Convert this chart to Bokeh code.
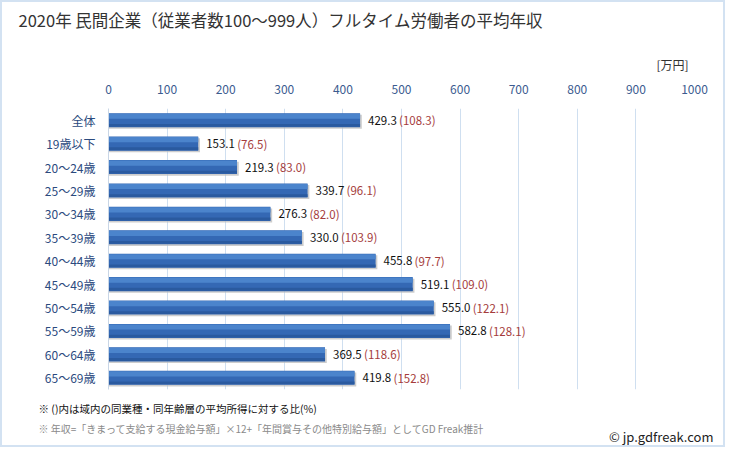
from bokeh.plotting import figure
from bokeh.models import (FactorRange, Range1d, ColumnDataSource, Title, FixedTicker)
from bokeh.transform import dodge
from bokeh.core.properties import value
from bokeh.embed import file_html
from bokeh.resources import INLINE

categories = ["全体", "19歳以下", "20～24歳", "25～29歳", "30～34歳", "35～39歳",
              "40～44歳", "45～49歳", "50～54歳", "55～59歳", "60～64歳", "65～69歳"]
incomes = [429.3, 153.1, 219.3, 339.7, 276.3, 330.0, 455.8, 519.1, 555.0, 582.8, 369.5, 419.8]
ratios = [108.3, 76.5, 83.0, 96.1, 82.0, 103.9, 97.7, 109.0, 122.1, 128.1, 118.6, 152.8]
x_ticks = [0, 100, 200, 300, 400, 500, 600, 700, 800, 900, 1000]

FONT = "Noto Sans CJK JP"

src = ColumnDataSource(dict(
    cat=categories,
    income=incomes,
    shadow=[v + 3 for v in incomes],
    vlabel=[f"{v:.1f}" for v in incomes],
    rlabel=[f"({r:.1f})" for r in ratios],
))

W, H = 725, 447
ML, MR = 106, 33

p = figure(width=W, height=H, output_backend="svg", toolbar_location=None,
           y_range=FactorRange(factors=list(reversed(categories)), range_padding=0.0),
           x_range=Range1d(0, 1000), x_axis_location="above",
           min_border_left=ML, min_border_right=MR, min_border_top=0, min_border_bottom=0)
p.styles = {"border": "2px solid #d3e2f2"}
p.outline_line_color = None
p.background_fill_color = "white"
p.border_fill_color = "white"

# grid
p.xgrid.ticker = FixedTicker(ticks=x_ticks)
p.xgrid.grid_line_color = "#cfdff0"
p.xgrid.grid_line_width = 1
p.ygrid.grid_line_color = None

# axes
xa = p.xaxis[0]
xa.ticker = FixedTicker(ticks=x_ticks)
xa.axis_line_color = None
xa.major_tick_line_color = None
xa.minor_tick_line_color = None
xa.major_tick_out = 0
xa.major_tick_in = 0
xa.major_label_text_color = "#3b5b8f"
xa.major_label_text_font = FONT
xa.major_label_text_font_size = "12px"
xa.major_label_standoff = 15

ya = p.yaxis[0]
ya.axis_line_color = "#c9d6e6"
ya.major_tick_line_color = None
ya.minor_tick_line_color = None
ya.major_tick_out = 0
ya.major_tick_in = 0
ya.major_label_text_color = "#2b4a7e"
ya.major_label_text_font = FONT
ya.major_label_text_font_size = "12px"
ya.major_label_standoff = 13

# bars: shadow, main, highlight
p.hbar(y=dodge("cat", -0.07, range=p.y_range), left=0, right="shadow", height=0.6,
       source=src, fill_color="#b8b8b8", line_color=None, fill_alpha=0.7)
p.hbar(y="cat", left=0, right="income", height=0.6, source=src,
       fill_color="#3468b4", line_color=None)
p.hbar(y=dodge("cat", 0.17, range=p.y_range), left=0, right="income", height=0.22,
       source=src, fill_color="#4b84cc", line_color=None)
p.hbar(y=dodge("cat", -0.22, range=p.y_range), left=0, right="income", height=0.12,
       source=src, fill_color="#2a5a9f", line_color=None)

# value labels
p.text(x="income", y="cat", text="vlabel", source=src, x_offset=8,
       text_font=value(FONT), text_font_size="11.5px", text_color="#111111",
       text_baseline="middle", text_align="left")
p.text(x="income", y="cat", text="rlabel", source=src, x_offset=39,
       text_font=value(FONT), text_font_size="11.5px", text_color="#a53c3c",
       text_baseline="middle", text_align="left")

# titles / notes (panels outside the frame)
unit = Title(text="[万円]", align="right", vertical_align="middle", offset=6,
             standoff=15, text_font=FONT, text_font_size="12px",
             text_color="#333333", text_font_style="normal")
spacer = Title(text=" ", align="left", vertical_align="middle", standoff=6,
               text_font=FONT, text_font_size="1px", text_color="white")
p.add_layout(unit, "above")
p.add_layout(spacer, "above")

p.title.text = "2020年 民間企業（従業者数100～999人）フルタイム労働者の平均年収"
p.title.align = "left"
p.title.vertical_align = "top"
p.title.offset = -(ML - 16)
p.title.standoff = 10
p.title.text_font = FONT
p.title.text_font_size = "16.5px"
p.title.text_font_style = "normal"
p.title.text_color = "#333333"

note1 = Title(text="※ ()内は域内の同業種・同年齢層の平均所得に対する比(%)",
              align="left", vertical_align="bottom", offset=-(ML - 36), standoff=19,
              text_font=FONT, text_font_size="10.5px", text_color="#111111",
              text_font_style="normal")
note2 = Title(text="※ 年収=「きまって支給する現金給与額」×12+「年間賞与その他特別給与額」としてGD Freak推計",
              align="left", vertical_align="top", offset=-(ML - 36), standoff=-9,
              text_font=FONT, text_font_size="10px", text_color="#8a8a8a",
              text_font_style="normal")
credit = Title(text="© jp.gdfreak.com", align="right", vertical_align="top",
               offset=-19, standoff=-14, text_font=FONT, text_font_size="13px",
               text_color="#222222", text_font_style="normal")
spacer2 = Title(text=" ", align="left", vertical_align="middle", standoff=6,
                text_font=FONT, text_font_size="1px", text_color="white")
p.add_layout(note1, "below")
p.add_layout(note2, "below")
p.add_layout(credit, "below")
p.add_layout(spacer2, "below")

open("out.html", "w").write(file_html(p, INLINE))
